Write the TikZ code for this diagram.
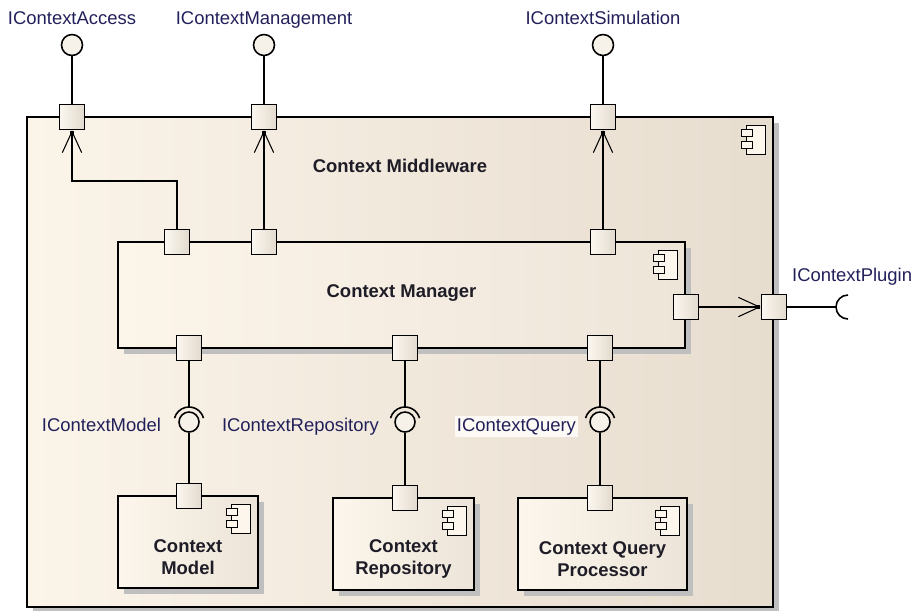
\documentclass[tikz,border=0pt]{standalone}
\usepackage{fontspec}
\setmainfont{Liberation Sans}
\usetikzlibrary{positioning,fit,shadows,arrows.meta}

\definecolor{mwL}{HTML}{FBF4E9}
\definecolor{mwR}{HTML}{E7DDCF}
\definecolor{mgrL}{HTML}{FCF5EA}
\definecolor{mgrR}{HTML}{EEE5D9}
\definecolor{subL}{HTML}{FCF6EC}
\definecolor{subR}{HTML}{ECE4D8}
\definecolor{portL}{HTML}{FBF7F0}
\definecolor{portR}{HTML}{E2DACD}
\definecolor{ballc}{HTML}{F6F1E9}
\definecolor{labc}{HTML}{22205A}
\definecolor{titc}{HTML}{1E1C26}

\tikzset{
  comp/.style={draw, line width=1pt, inner sep=0pt,
    drop shadow={opacity=1, fill=black!25, shadow xshift=1.2mm, shadow yshift=-1.2mm}},
  port/.style={draw, line width=0.9pt, minimum size=0.5cm, inner sep=0pt,
    left color=portL, right color=portR},
  lolli/.style={circle, draw, line width=0.9pt, minimum size=0.42cm, inner sep=0pt, fill=ballc},
  ball/.style={circle, draw, line width=0.9pt, minimum size=0.4cm, inner sep=0pt, fill=ballc},
  conn/.style={line width=0.9pt},
  deleg/.style={line width=0.9pt, -{Straight Barb[length=12pt, width=11pt, line width=0.6pt]}},
  tipsq/.style={fill, minimum size=2.6pt, inner sep=0pt},
  iflabel/.style={text=labc, font=\fontsize{10.5}{12.6}\selectfont, inner sep=1pt},
  ctitle/.style={text=titc, font=\fontsize{10.5}{12.6}\selectfont\bfseries, align=center},
  compicon/.pic={
    \draw[line width=0.7pt, fill=subL] (-19,0) rectangle (0,29);
    \draw[line width=0.7pt, fill=subL] (-24,4) rectangle (-13,11);
    \draw[line width=0.7pt, fill=subL] (-24,16) rectangle (-13,23);
  }
}

\begin{document}
\begin{tikzpicture}[x=0.02cm, y=-0.02cm]
  \useasboundingbox (0,0) rectangle (915,610);

  % components
  \node[comp, left color=mwL, right color=mwR, fit={(27,117) (773,607)}] (mw) {};
  \node[comp, left color=mgrL, right color=mgrR, fit={(118,242) (685,348)}] (mgr) {};
  \node[comp, left color=subL, right color=subR, fit={(118,496) (258,588)}] (cm) {};
  \node[comp, left color=subL, right color=subR, fit={(333,498) (474,590)}] (cr) {};
  \node[comp, left color=subL, right color=subR, fit={(518,498) (687,590)}] (cq) {};

  \foreach \c in {mw, mgr, cm, cr, cq}
    \pic at ([xshift=-0.17cm, yshift=-0.18cm]\c.north east) {compicon};

  \node[ctitle] (mwT) at ([yshift=-1cm]mw.north) {Context Middleware};
  \node[ctitle] (mgrT) at ([yshift=0.04cm]mgr.center) {Context Manager};
  \node[ctitle] (cmT) at ([yshift=-0.3cm]cm.center) {Context\\Model};
  \node[ctitle] (crT) at ([yshift=-0.3cm]cr.center) {Context\\Repository};
  \node[ctitle] (cqT) at ([yshift=-0.3cm]cq.center) {Context Query\\Processor};

  % ports
  \node[port] (mwA) at (72,117) {};
  \node[port] (mwB) at (264,117) {};
  \node[port] (mwC) at (603,117) {};
  \node[port] (mwP) at (774,307) {};
  \node[port] (mgrA) at (177,242) {};
  \node[port] (mgrB) at (264,242) {};
  \node[port] (mgrC) at (603,242) {};
  \node[port] (mgrP) at (686,307) {};
  \node[port] (mgrM) at (189,348) {};
  \node[port] (mgrR) at (405,348) {};
  \node[port] (mgrQ) at (600,348) {};
  \node[port] (cmP) at (189,496) {};
  \node[port] (crP) at (405,498) {};
  \node[port] (cqP) at (600,498) {};

  % provided interfaces
  \node[lolli] (lolA) at (72,45) {};
  \node[lolli] (lolB) at (264,45) {};
  \node[lolli] (lolC) at (603,45) {};
  \draw[conn] (lolA) -- (mwA);
  \draw[conn] (lolB) -- (mwB);
  \draw[conn] (lolC) -- (mwC);
  \node[iflabel, anchor=base] (labA) at ([yshift=5pt]lolA.north) {IContextAccess};
  \node[iflabel, anchor=base] (labB) at ([yshift=5pt]lolB.north) {IContextManagement};
  \node[iflabel, anchor=base] (labC) at ([yshift=5pt]lolC.north) {IContextSimulation};

  % delegation
  \draw[deleg] (mgrA.north) -- ++(0,-48) -| (mwA.south);
  \draw[deleg] (mgrB) -- (mwB);
  \draw[deleg] (mgrC) -- (mwC);
  \draw[deleg] (mgrP) -- (mwP);
  \foreach \p/\side/\anc in {mwA/south/north, mwB/south/north, mwC/south/north, mwP/west/east}
    \node[tipsq, anchor=\anc] (tip\p) at (\p.\side) {};

  % required plugin interface
  \coordinate (sockP) at (836,307);
  \draw[conn] (mwP) -- (sockP);
  \draw[conn] (sockP) arc[start angle=180, end angle=90, radius=0.24cm]
              (sockP) arc[start angle=180, end angle=270, radius=0.24cm];
  \node[iflabel, anchor=base west] (labP) at (790,281) {IContextPlugin};

  % assemblies
  \node[ball] (ballM) at (189,422) {};
  \node[ball] (ballR) at (405,422) {};
  \node[ball] (ballQ) at (600,422) {};
  \foreach \b/\u/\d in {ballM/mgrM/cmP, ballR/mgrR/crP, ballQ/mgrQ/cqP} {
    \draw[conn] (\u) -- ([yshift=0.3cm]\b.center);
    \draw[conn] ([shift={(15:0.3cm)}]\b.center) arc[start angle=15, end angle=165, radius=0.3cm];
    \draw[conn] (\b) -- (\d);
  }
  \node[iflabel, anchor=base east] (labM) at (163,431) {IContextModel};
  \node[iflabel, anchor=base east] (labR) at (381,431) {IContextRepository};
  \node[iflabel, anchor=base east, fill=white!45!subL] (labQ) at (578,431) {IContextQuery};
\end{tikzpicture}
\end{document}
